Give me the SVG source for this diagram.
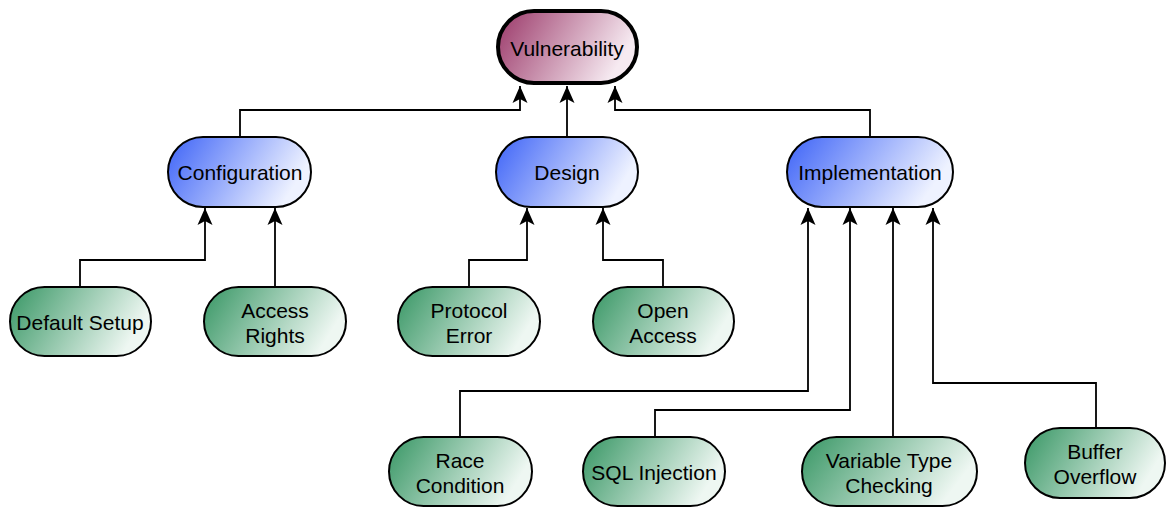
<svg xmlns="http://www.w3.org/2000/svg" width="1167" height="507" viewBox="0 0 1167 507">
<style>
.n{stroke:#000;stroke-width:2}
.g{fill:url(#gG)}
.b{fill:url(#gB)}
.t{font-family:"Liberation Sans",Arial,sans-serif;font-size:21px;fill:#000;text-anchor:middle}
.c{fill:none;stroke:#000;stroke-width:1.8;marker-end:url(#ah)}
</style>
<defs>
<linearGradient id="gV" x1="0" y1="0" x2="1" y2="0.3"><stop offset="0" stop-color="#9a3768"/><stop offset="1" stop-color="#f6eaf1"/></linearGradient>
<linearGradient id="gB" x1="0" y1="0" x2="1" y2="0.3"><stop offset="0" stop-color="#3d63f7"/><stop offset="1" stop-color="#eef2ff"/></linearGradient>
<linearGradient id="gG" x1="0" y1="0" x2="1" y2="0.3"><stop offset="0" stop-color="#379664"/><stop offset="1" stop-color="#eef7f2"/></linearGradient>
<marker id="ah" markerUnits="userSpaceOnUse" markerWidth="20" markerHeight="16" viewBox="0 0 18 16" refX="17" refY="8" orient="auto"><path d="M0,0.5 L17,8 L0,15.5 L4,8 Z" fill="#000"/></marker>
</defs>
<g id="connectors">
<path class="c" d="M240,137 V110 H520 V86"/>
<path class="c" d="M567,137 V86"/>
<path class="c" d="M870,137 V110 H615 V86"/>
<path class="c" d="M80,287 V260 H205 V208"/>
<path class="c" d="M275,287 V208"/>
<path class="c" d="M469,287 V260 H527 V208"/>
<path class="c" d="M663,287 V260 H603 V208"/>
<path class="c" d="M460,437 V391 H808 V208"/>
<path class="c" d="M655,437 V410 H850 V208"/>
<path class="c" d="M893,437 V208"/>
<path class="c" d="M1096,428 V383 H933 V208"/>
</g>
<g id="vulnerability"><rect x="498" y="11" width="139" height="72" rx="36" fill="url(#gV)" stroke="#000" stroke-width="4"/><text class="t" x="567" y="56">Vulnerability</text></g>
<g id="configuration"><rect class="n b" x="168" y="137" width="143" height="70" rx="35"/><text class="t" x="240" y="180">Configuration</text></g>
<g id="design"><rect class="n b" x="496" y="137" width="142" height="70" rx="35"/><text class="t" x="567" y="180">Design</text></g>
<g id="implementation"><rect class="n b" x="787" y="137" width="166" height="70" rx="35"/><text class="t" x="870" y="180">Implementation</text></g>
<g id="default-setup"><rect class="n g" x="10" y="287" width="141" height="69" rx="34.5"/><text class="t" x="80" y="330">Default Setup</text></g>
<g id="access-rights"><rect class="n g" x="204" y="287" width="142" height="69" rx="34.5"/><text class="t" x="275" y="318">Access</text><text class="t" x="275" y="343">Rights</text></g>
<g id="protocol-error"><rect class="n g" x="398" y="287" width="142" height="69" rx="34.5"/><text class="t" x="469" y="318">Protocol</text><text class="t" x="469" y="343">Error</text></g>
<g id="open-access"><rect class="n g" x="593" y="287" width="141" height="69" rx="34.5"/><text class="t" x="663" y="318">Open</text><text class="t" x="663" y="343">Access</text></g>
<g id="race-condition"><rect class="n g" x="389" y="437" width="143" height="69" rx="34.5"/><text class="t" x="460" y="468">Race</text><text class="t" x="460" y="493">Condition</text></g>
<g id="sql-injection"><rect class="n g" x="583" y="437" width="142" height="69" rx="34.5"/><text class="t" x="654" y="480">SQL Injection</text></g>
<g id="variable-type-checking"><rect class="n g" x="802" y="437" width="175" height="69" rx="34.5"/><text class="t" x="889" y="468">Variable Type</text><text class="t" x="889" y="493">Checking</text></g>
<g id="buffer-overflow"><rect class="n g" x="1025" y="428" width="140" height="70" rx="35"/><text class="t" x="1095" y="459">Buffer</text><text class="t" x="1095" y="484">Overflow</text></g>
</svg>
